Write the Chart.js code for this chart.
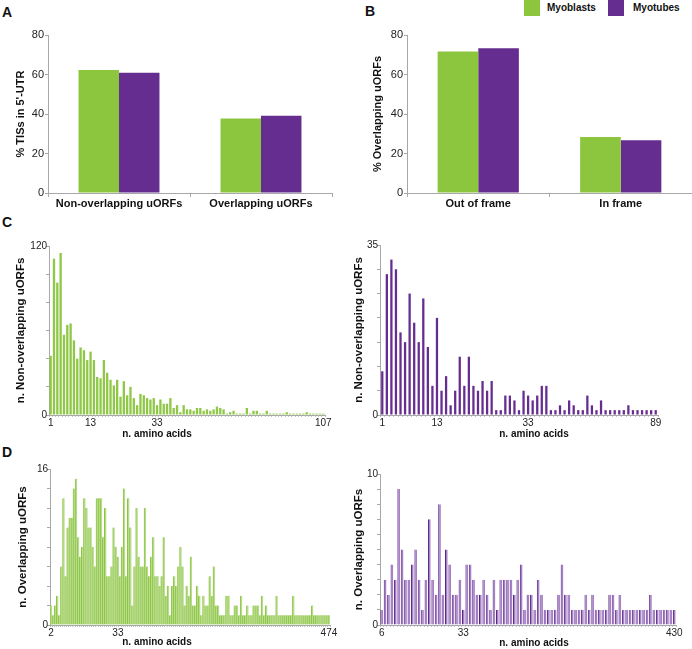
<!DOCTYPE html>
<html>
<head>
<meta charset="utf-8">
<script src="https://cdn.jsdelivr.net/npm/chart.js@4.4.1/dist/chart.umd.min.js"></script>
<style>
  body { margin: 0; background: #fff; width: 692px; height: 649px; position: relative; overflow: hidden;
         font-family: "Liberation Sans", Arial, sans-serif; color: #111; }
  canvas { position: absolute; }
  .letter { position: absolute; font-size: 14px; font-weight: bold; line-height: 14px; }
  .key { position: absolute; top: 0; width: 16px; height: 16px; }
  .keytext { position: absolute; top: 0; font-size: 10px; font-weight: bold; line-height: 16px; }
  .xtitle { position: absolute; width: 120px; text-align: center; font-size: 10px; font-weight: bold; line-height: 12px; }
</style>
</head>
<body>
<div class="letter" style="left:2px;top:5px">A</div>
<div class="letter" style="left:365px;top:4px">B</div>
<div class="letter" style="left:2px;top:215px">C</div>
<div class="letter" style="left:2px;top:445px">D</div>

<div class="key" style="left:524px;background:#8cc63e"></div>
<div class="keytext" style="left:547px">Myoblasts</div>
<div class="key" style="left:608px;background:#662d91"></div>
<div class="keytext" style="left:633px">Myotubes</div>

<canvas id="chartA" width="340" height="200" style="left:0;top:20px"></canvas>
<canvas id="chartB" width="346" height="200" style="left:346px;top:20px"></canvas>
<canvas id="chartC1" width="346" height="205" style="left:0;top:230px"></canvas>
<canvas id="chartC2" width="346" height="205" style="left:346px;top:230px"></canvas>
<canvas id="chartD1" width="346" height="190" style="left:0;top:452px"></canvas>
<canvas id="chartD2" width="346" height="190" style="left:346px;top:452px"></canvas>

<div class="xtitle" style="left:97px;top:428px">n. amino acids</div>
<div class="xtitle" style="left:474px;top:428px">n. amino acids</div>
<div class="xtitle" style="left:97px;top:636px">n. amino acids</div>
<div class="xtitle" style="left:474px;top:637px">n. amino acids</div>

<script>
const green = "#8cc63e";
const purple = "#662d91";
const axisGray = "#a8a8a8";

// panel A
const groupsA = ["Non-overlapping uORFs", "Overlapping uORFs"];
const myoblastsA = [62.3, 37.7];
const myotubesA = [60.9, 39.1];

// panel B
const groupsB = ["Out of frame", "In frame"];
const myoblastsB = [71.6, 28.4];
const myotubesB = [73.3, 26.7];

// panel C, left (myoblasts) and right (myotubes)
const nonOverlapMyoblasts = [
  42, 111, 94, 115, 57, 64, 65, 53, 40, 48,
  46, 39, 45, 39, 27, 26, 39, 30, 25, 21,
  25, 13, 24, 14, 20, 12, 7, 15, 14, 12,
  11, 12, 7, 11, 8, 8, 12, 5, 7, 2,
  7, 4, 4, 3, 5, 5, 3, 4, 3, 4,
  6, 5, 4, 1, 2, 3, 1, 1, 1, 5,
  1, 3, 3, 1, 1, 3, 1, 1, 1, 1,
  1, 2, 1, 1, 1, 1, 1, 2, 1, 1,
  1, 1, 1,
];
const nonOverlapMyoblastsTickAt = [0, 12, 32, 82];
const nonOverlapMyoblastsTicks = ["1", "13", "33", "107"];

const nonOverlapMyotubes = [
  9, 29, 32, 30, 17, 15, 25, 19, 15, 24,
  14, 6, 20, 5, 8, 2, 5, 12, 6, 12,
  6, 5, 7, 5, 7, 1, 1, 4, 4, 3,
  1, 5, 4, 3, 4, 6, 6, 1, 1, 2,
  1, 3, 2, 1, 1, 4, 2, 1, 3, 1,
  1, 1, 1, 1, 2, 1, 1, 1, 1, 1, 1,
];
const nonOverlapMyotubesTickAt = [0, 12, 32, 60];
const nonOverlapMyotubesTicks = ["1", "13", "33", "89"];

// panel D, left (myoblasts) and right (myotubes)
const overlapMyoblasts = [
  2, 1, 2, 3, 1, 6, 13, 5, 10, 11,
  11, 14, 15, 9, 7, 8, 13, 12, 10, 10,
  8, 6, 13, 13, 13, 9, 12, 5, 5, 6,
  10, 8, 7, 5, 8, 14, 5, 13, 10, 2,
  6, 12, 7, 6, 6, 12, 6, 5, 7, 9,
  5, 5, 4, 5, 9, 3, 4, 1, 4, 5,
  4, 6, 8, 6, 2, 4, 3, 7, 2, 2,
  4, 3, 1, 3, 2, 2, 5, 3, 6, 2,
  2, 1, 1, 1, 3, 3, 1, 1, 2, 2,
  1, 3, 1, 1, 2, 1, 1, 2, 2, 2,
  1, 3, 1, 2, 1, 1, 1, 1, 3, 1,
  1, 1, 1, 1, 1, 1, 3, 1, 1, 1,
  1, 1, 1, 1, 1, 2, 1, 1, 1, 1,
  1, 1, 1, 1,
];
const overlapMyoblastsTickAt = [0, 32, 133];
const overlapMyoblastsTicks = ["2", "33", "474"];

const overlapMyotubes = [
  1, 3, 2, 4, 3, 9, 5, 3, 3, 4,
  5, 3, 1, 3, 7, 3, 2, 8, 2, 5,
  4, 2, 2, 3, 1, 4, 4, 3, 2, 2,
  3, 2, 1, 3, 1, 3, 3, 3, 3, 2,
  3, 4, 1, 2, 2, 1, 3, 2, 1, 1,
  1, 1, 2, 4, 2, 2, 1, 1, 1, 1,
  2, 1, 2, 1, 1, 1, 1, 2, 2, 1,
  2, 1, 1, 1, 1, 1, 1, 1, 1, 2,
  1, 1, 1, 1, 1, 1, 1,
];
const overlapMyotubesTickAt = [0, 24, 86];
const overlapMyotubesTicks = ["6", "33", "430"];

Chart.defaults.font.family = '"Liberation Sans", Arial, sans-serif';
Chart.defaults.color = "#222";
Chart.defaults.animation = false;

function groupedBars(id, labels, blasts, tubes, yTitle, yWidth, titlePad, padRight) {
  new Chart(document.getElementById(id), {
    type: "bar",
    data: {
      labels: labels,
      datasets: [
        { label: "Myoblasts", data: blasts, backgroundColor: green, categoryPercentage: 0.57, barPercentage: 1 },
        { label: "Myotubes", data: tubes, backgroundColor: purple, categoryPercentage: 0.57, barPercentage: 1 },
      ],
    },
    options: {
      responsive: false,
      layout: { padding: { top: 15, right: padRight, left: 0, bottom: 0 } },
      plugins: { legend: { display: false }, tooltip: { enabled: false } },
      scales: {
        x: {
          grid: { drawOnChartArea: false, tickLength: 4, color: axisGray },
          border: { color: axisGray },
          ticks: { font: { size: 11, weight: "bold" }, padding: 0, color: "#111" },
          afterFit: (s) => { s.height = 27; },
        },
        y: {
          min: 0,
          max: 80,
          ticks: { stepSize: 20, font: { size: 11 }, padding: 1 },
          grid: { drawOnChartArea: false, tickLength: 3, color: axisGray },
          border: { color: axisGray },
          title: { display: true, text: yTitle, color: "#111", font: { size: 11, weight: "bold" }, padding: { top: titlePad, bottom: 0 } },
          afterFit: (s) => { s.width = yWidth; },
        },
      },
    },
  });
}

function histogram(id, values, tickAt, tickText, cfg) {
  new Chart(document.getElementById(id), {
    type: "bar",
    data: {
      labels: values.map((v, i) => i),
      datasets: [{
        data: values,
        backgroundColor: cfg.fill,
        borderColor: cfg.edge || cfg.fill,
        borderWidth: cfg.edge ? { left: 1, right: 0, top: 0, bottom: 0 } : 0,
        borderSkipped: false,
        categoryPercentage: 1,
        barPercentage: cfg.bar,
      }],
    },
    options: {
      responsive: false,
      layout: { padding: { top: cfg.top, right: cfg.right, left: 0, bottom: 0 } },
      plugins: { legend: { display: false }, tooltip: { enabled: false } },
      scales: {
        x: {
          grid: { drawOnChartArea: false, tickLength: 2, color: "#c4c4c4" },
          border: { color: axisGray },
          ticks: {
            autoSkip: false,
            maxRotation: 0,
            padding: 0,
            font: { size: 10 },
            callback: (value, index) => {
              const k = tickAt.indexOf(index);
              return k >= 0 ? tickText[k] : "";
            },
          },
          afterFit: (s) => { s.height = cfg.xHeight; },
        },
        y: {
          min: 0,
          max: cfg.max,
          ticks: {
            stepSize: cfg.step,
            padding: -1,
            font: { size: 10 },
            callback: (value) => (value === 0 || value === cfg.max ? value : ""),
          },
          grid: { drawOnChartArea: false, tickLength: 3, color: axisGray },
          border: { color: axisGray },
          title: { display: true, text: cfg.title, color: "#111", font: { size: 11.5, weight: "bold" }, padding: { top: cfg.titlePad, bottom: 0 } },
          afterFit: (s) => { s.width = cfg.yWidth; },
        },
      },
    },
  });
}

groupedBars("chartA", groupsA, myoblastsA, myotubesA, "% TISs in 5'-UTR", 48, 14, 8);
groupedBars("chartB", groupsB, myoblastsB, myotubesB, "% Overlapping uORFs", 61, 25, 0);

histogram("chartC1", nonOverlapMyoblasts, nonOverlapMyoblastsTickAt, nonOverlapMyoblastsTicks, {
  fill: "#8fc846", bar: 0.7, max: 120, step: 20, title: "n. Non-overlapping uORFs",
  yWidth: 49, titlePad: 14, top: 16, right: 21, xHeight: 20,
});
histogram("chartC2", nonOverlapMyotubes, nonOverlapMyotubesTickAt, nonOverlapMyotubesTicks, {
  fill: purple, bar: 0.5, max: 35, step: 5, title: "n. Non-overlapping uORFs",
  yWidth: 34, titlePad: 6, top: 15, right: 34, xHeight: 20,
});
histogram("chartD1", overlapMyoblasts, overlapMyoblastsTickAt, overlapMyoblastsTicks, {
  fill: "#b9db90", edge: "#8cc63e", bar: 1, max: 16, step: 2, title: "n. Overlapping uORFs",
  yWidth: 50, titlePad: 16, top: 17, right: 16, xHeight: 17,
});
histogram("chartD2", overlapMyotubes, overlapMyotubesTickAt, overlapMyotubesTicks, {
  fill: "#a781c8", edge: "#582583", bar: 0.8, max: 10, step: 1, title: "n. Overlapping uORFs",
  yWidth: 34, titlePad: 6, top: 22, right: 16, xHeight: 17,
});
</script>
</body>
</html>
